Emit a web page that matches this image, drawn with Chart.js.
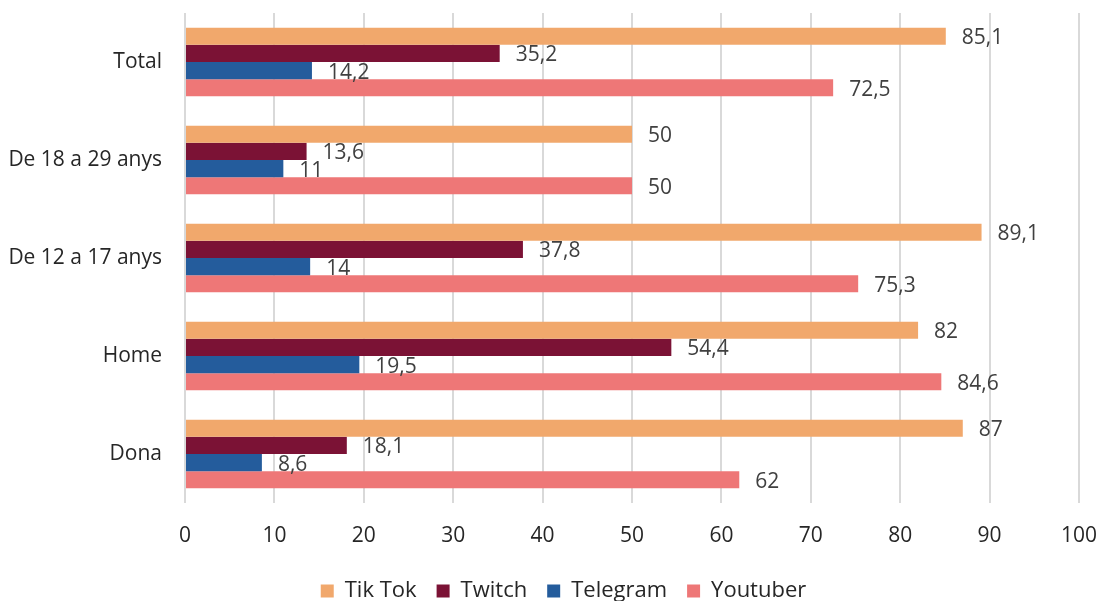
<!DOCTYPE html>
<html>
<head>
<meta charset="utf-8">
<script src="https://cdn.jsdelivr.net/npm/chart.js@4"></script>
<style>
  html, body { margin: 0; padding: 0; background: #fff; }
  #wrap { width: 1099px; height: 601px; }
</style>
</head>
<body>
<div id="wrap"><canvas id="xarxesChart"></canvas></div>
<script>
const categories = ['Total', 'De 18 a 29 anys', 'De 12 a 17 anys', 'Home', 'Dona'];
const tiktok = [85.1, 50, 89.1, 82, 87];
const twitch = [35.2, 13.6, 37.8, 54.4, 18.1];
const telegram = [14.2, 11, 14, 19.5, 8.6];
const youtuber = [72.5, 50, 75.3, 84.6, 62];

const fontFam = 'Open Sans';

// simple value labels at the end of each bar (no datalabels plugin available)
const barLabels = {
    id: 'barLabels',
    afterLayout(chart) {
        // the original legend sits a bit right of centre
        if (chart.legend) chart.legend.left += 48;
    },
    afterDatasetsDraw(chart) {
        const ctx = chart.ctx;
        ctx.save();
        ctx.font = '21px "' + fontFam + '"';
        ctx.fillStyle = '#404040';
        ctx.textAlign = 'left';
        ctx.textBaseline = 'middle';
        chart.data.datasets.forEach((ds, i) => {
            chart.getDatasetMeta(i).data.forEach((bar, j) => {
                const txt = String(ds.data[j]).replace('.', ',');
                ctx.fillText(txt, bar.x + 16, bar.y + 2);
            });
        });
        ctx.restore();
    }
};

const ctx = document.getElementById('xarxesChart').getContext('2d');
const xarxesChart = new Chart(ctx, {
    type: 'bar',
    data: {
        labels: categories,
        datasets: [
            { label: 'Tik Tok', data: tiktok, backgroundColor: '#F1A86C' },
            { label: 'Twitch', data: twitch, backgroundColor: '#7B1235' },
            { label: 'Telegram', data: telegram, backgroundColor: '#245C9C' },
            { label: 'Youtuber', data: youtuber, backgroundColor: '#EE7777' }
        ]
    },
    options: {
        indexAxis: 'y',
        responsive: true,
        maintainAspectRatio: false,
        animation: false,
        layout: { padding: { top: 13, right: 20, left: 0, bottom: 0 } },
        datasets: {
            bar: { barPercentage: 1, categoryPercentage: 0.7 }
        },
        scales: {
            x: {
                min: 0,
                max: 100,
                ticks: { stepSize: 10, color: '#262626', font: { family: fontFam, size: 21 }, padding: 20 },
                grid: { color: '#d9d9d9', lineWidth: 2, drawTicks: false },
                border: { display: false },
                afterFit(scale) {
                    scale.height = 57;
                    scale.paddingLeft = 0;
                    scale.paddingRight = 0;
                }
            },
            y: {
                ticks: { color: '#262626', font: { family: fontFam, size: 21 }, padding: 15 },
                grid: { display: false },
                border: { display: false },
                afterFit(scale) {
                    scale.width = 185;
                    scale.paddingTop = 0;
                    scale.paddingBottom = 0;
                }
            }
        },
        plugins: {
            legend: {
                position: 'bottom',
                labels: {
                    boxWidth: 13,
                    boxHeight: 13,
                    color: '#262626',
                    font: { family: fontFam, size: 22 },
                    padding: 20
                }
            },
            tooltip: { enabled: false }
        }
    },
    plugins: [barLabels]
});
// force legend height so the plot area ends where the reference does
const legendFit = xarxesChart.legend.fit;
xarxesChart.legend.fit = function () {
    legendFit.call(this);
    this.height = 41;
};
xarxesChart.update();
</script>
</body>
</html>
